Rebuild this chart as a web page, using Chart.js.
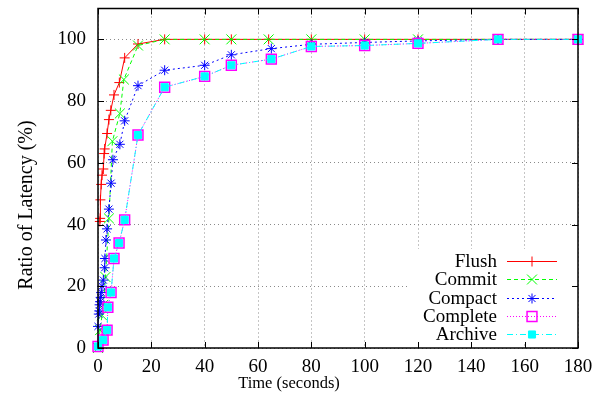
<!DOCTYPE html>
<html>
<head>
<meta charset="utf-8">
<script src="https://cdn.jsdelivr.net/npm/chart.js@4.4.0/dist/chart.umd.min.js"></script>
<style>
    html, body { margin: 0; padding: 0; background: #fff; }
    #wrap { width: 612px; height: 409px; }
</style>
</head>
<body>
<div id="wrap"><canvas id="grafico" width="612" height="409"></canvas></div>
<script>
// Datos
const flushX = [0.7, 0.8, 0.9, 1.2, 1.5, 2, 2.3, 2.5, 3.4, 4.1, 4.8, 6, 8, 10, 15, 25, 40, 50, 64, 80, 100, 120, 150, 180];
const flushY = [41, 42, 48, 53, 56, 58, 63, 64.5, 69.5, 74, 77, 82, 86, 94, 98.5, 100, 100, 100, 100, 100, 100, 100, 100, 100];

const commitX = [0, 0.8, 1.5, 2, 2.8, 4.1, 5.4, 8.2, 9.7, 15, 25, 40, 50, 64, 80, 100, 120, 150, 180];
const commitY = [0, 5.8, 10.6, 14, 23, 42, 67, 76, 87, 98, 100, 100, 100, 100, 100, 100, 100, 100, 100];

const compactX = [0, 0.3, 0.5, 0.6, 0.8, 1, 1.2, 1.5, 2, 2.5, 2.6, 3, 3.4, 4.1, 4.9, 5.6, 8.2, 10, 15, 25, 40, 50, 65, 80, 100, 120, 150, 180];
const compactY = [7, 11, 12, 14, 15, 16.4, 18, 20, 22, 26, 29, 35, 38.6, 45, 53.4, 61, 66, 73.6, 85, 90, 91.6, 95, 97, 98.4, 99, 99.5, 100, 100];

const completeX = [0, 1.9, 3.4, 3.7, 4.9, 6, 7.9, 10, 15, 25, 40, 50, 65, 80, 100, 120, 150, 180];
const completeY = [0.5, 2.6, 5.8, 13.2, 18, 29, 34, 41.5, 69, 84.5, 88, 91.6, 93.6, 97.7, 98, 98.7, 100, 100];

const archiveX = [0, 1.9, 3.4, 3.7, 4.9, 6, 7.9, 10, 15, 25, 40, 50, 65, 80, 100, 120, 150, 180];
const archiveY = [0.5, 2.6, 5.8, 13.2, 18, 29, 34, 41.5, 69, 84.5, 88, 91.6, 93.6, 97.7, 98, 98.7, 100, 100];

const xTicks = [0, 20, 40, 60, 80, 100, 120, 140, 160, 180];
const yTicks = [0, 20, 40, 60, 80, 100];

const FUENTE = '"Liberation Serif", "Times New Roman", serif';

function puntos(xs, ys) {
    return xs.map((x, i) => ({ x: x, y: ys[i] }));
}

const series = [
    { label: "Flush",    data: puntos(flushX, flushY),       color: "#ff0000", dash: [],           style: "cross",    radius: 5, fill: "#ff0000", order: 5 },
    { label: "Commit",   data: puntos(commitX, commitY),     color: "#00ff00", dash: [4, 3],       style: "crossRot", radius: 7, fill: "#00ff00", order: 4 },
    { label: "Compact",  data: puntos(compactX, compactY),   color: "#0000ff", dash: [2, 3],       style: "star",     radius: 5, fill: "#0000ff", order: 3 },
    { label: "Complete", data: puntos(completeX, completeY), color: "#ff00ff", dash: [1, 2],       style: "rect",     radius: 7, fill: "rgba(0,0,0,0)", order: 2 },
    { label: "Archive",  data: puntos(archiveX, archiveY),   color: "#00ffff", dash: [6, 3, 1, 3], style: "rect",     radius: 5, fill: "#00ffff", order: 1 }
];

// Marco, marcas de los ejes, títulos y leyenda al estilo gnuplot
const marcoPlugin = {
    id: "marco",
    beforeDatasetsDraw(chart) {
        const a = chart.chartArea;
        const ctx = chart.ctx;
        ctx.save();
        ctx.fillStyle = "#fff";
        ctx.fillRect(a.right - 168, a.bottom - 99, 165, 94);
        ctx.restore();
    },
    afterDraw(chart) {
        const ctx = chart.ctx;
        const a = chart.chartArea;
        const sx = chart.scales.x;
        const sy = chart.scales.y;
        ctx.save();

        // marcas hacia dentro
        ctx.strokeStyle = "#000";
        ctx.lineWidth = 1;
        xTicks.forEach(v => {
            const px = Math.round(sx.getPixelForValue(v)) + 0.5;
            ctx.beginPath();
            ctx.moveTo(px, a.bottom); ctx.lineTo(px, a.bottom - 6);
            ctx.moveTo(px, a.top); ctx.lineTo(px, a.top + 6);
            ctx.stroke();
        });
        yTicks.forEach(v => {
            const py = Math.round(sy.getPixelForValue(v)) + 0.5;
            ctx.beginPath();
            ctx.moveTo(a.left, py); ctx.lineTo(a.left + 6, py);
            ctx.moveTo(a.right, py); ctx.lineTo(a.right - 6, py);
            ctx.stroke();
        });

        // marco
        ctx.lineWidth = 1.5;
        ctx.strokeRect(a.left, a.top, a.right - a.left, a.bottom - a.top);

        // títulos
        ctx.fillStyle = "#000";
        ctx.textAlign = "center";
        ctx.textBaseline = "middle";
        ctx.font = "16.5px " + FUENTE;
        ctx.fillText("Time (seconds)", 289, 384);
        ctx.save();
        ctx.font = "20px " + FUENTE;
        ctx.translate(27, 205);
        ctx.rotate(-Math.PI / 2);
        ctx.fillText("Ratio of Latency (%)", 0, 0);
        ctx.restore();

        // leyenda
        ctx.font = "19px " + FUENTE;
        series.forEach((s, i) => {
            const y = 261 + i * 18.3;
            ctx.fillStyle = "#000";
            ctx.textAlign = "right";
            ctx.fillText(s.label, 497, y + 1);
            ctx.strokeStyle = s.color;
            ctx.lineWidth = 1;
            ctx.setLineDash(s.dash);
            ctx.beginPath();
            ctx.moveTo(507, Math.round(y) + 0.5);
            ctx.lineTo(557, Math.round(y) + 0.5);
            ctx.stroke();
            ctx.setLineDash([]);
            ctx.fillStyle = s.fill;
            ctx.lineWidth = s.label === "Complete" ? 1.5 : 1;
            Chart.helpers.drawPoint(ctx, { pointStyle: s.style, radius: s.radius, rotation: 0, borderWidth: 1 }, 532, Math.round(y) + 0.5);
        });
        ctx.restore();
    }
};

const graficoCtx = document.getElementById("grafico").getContext("2d");
const grafico = new Chart(graficoCtx, {
    type: "scatter",
    data: {
        datasets: series.map(s => ({
            label: s.label,
            data: s.data,
            showLine: true,
            borderColor: s.color,
            backgroundColor: s.fill,
            borderWidth: 1,
            borderDash: s.dash,
            pointStyle: s.style,
            pointRadius: s.radius,
            pointHoverRadius: s.radius,
            pointBorderWidth: s.label === "Complete" ? 1.5 : 1,
            pointBorderColor: s.color,
            pointBackgroundColor: s.fill,
            tension: 0,
            clip: false,
            order: s.order
        }))
    },
    options: {
        responsive: false,
        animation: false,
        devicePixelRatio: 1,
        layout: { padding: { top: 6, right: 34, left: 0, bottom: 0 } },
        plugins: { legend: { display: false }, tooltip: { enabled: false } },
        scales: {
            x: {
                type: "linear",
                min: 0, max: 180,
                afterBuildTicks: scale => { scale.ticks = xTicks.map(v => ({ value: v })); },
                afterFit: scale => { scale.height = 61; scale.paddingLeft = 0; scale.paddingRight = 0; },
                ticks: { color: "#000", padding: 8, maxRotation: 0, font: { family: FUENTE, size: 19 } },
                grid: { color: "#8a8a8a", lineWidth: 1, drawTicks: false },
                border: { display: false, dash: [1, 3] }
            },
            y: {
                type: "linear",
                min: 0, max: 110,
                afterBuildTicks: scale => { scale.ticks = yTicks.map(v => ({ value: v })); },
                afterFit: scale => { scale.width = 98; scale.paddingTop = 0; scale.paddingBottom = 0; },
                ticks: { color: "#000", padding: 12, font: { family: FUENTE, size: 19 } },
                grid: { color: "#8a8a8a", lineWidth: 1, drawTicks: false },
                border: { display: false, dash: [1, 3] }
            }
        }
    },
    plugins: [marcoPlugin]
});
</script>
</body>
</html>
